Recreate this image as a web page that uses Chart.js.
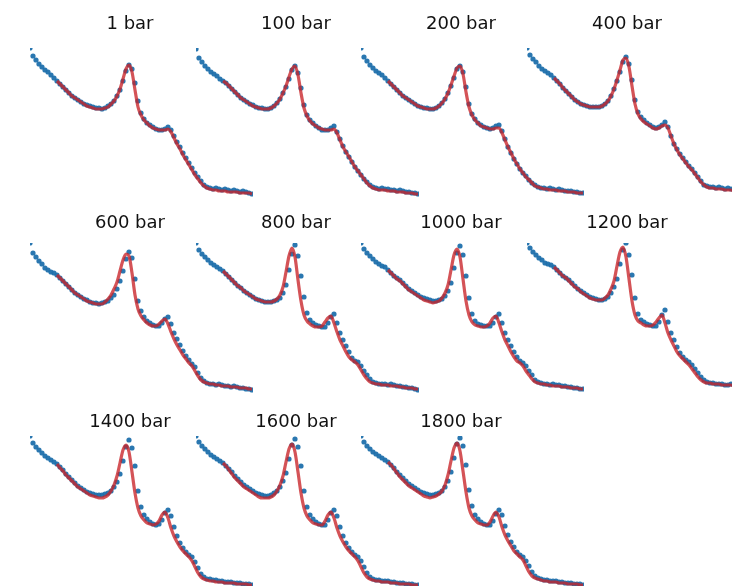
<!DOCTYPE html>
<html>
<head>
<meta charset="utf-8">
<script src="https://cdn.jsdelivr.net/npm/chart.js@4.4.1/dist/chart.umd.min.js"></script>
<style>
  html, body { margin: 0; padding: 0; background: #fff; }
  body { width: 732px; height: 587px; overflow: hidden; position: relative; }
  canvas { position: absolute; }
</style>
</head>
<body>
<script>
// channel positions of the measured points and of the fitted curve
const channels = [0,3,6,9,12,15,18,21,24,27,30,33,36,39,42,45,48,51,54,57,60,63,66,69,72,75,78,81,84,87,90,93,96,99,102,105,108,111,114,117,120,123,126,129,132,135,138,141,144,147,150,153,156,159,162,165,168,171,174,177,180,183,186,189,192,195,198,201,204,207,210,213,216,219,222];
const fitChannels = [27,30,33,36,39,42,45,48,51,54,57,60,63,66,69,72,75,78,81,84,87,90,93,96,99,102,105,108,111,114,117,120,123,126,129,132,135,138,141,144,147,150,153,156,159,162,165,168,171,174,177,180,183,186,189,192,195,198,201,204,207,210,213,216,219,222];

const pressures = ['1 bar', '100 bar', '200 bar', '400 bar', '600 bar', '800 bar', '1000 bar', '1200 bar', '1400 bar', '1600 bar', '1800 bar'];

// measured signal (depth below panel top) and fit, per pressure
const meas1 = [0,8,12,16,19,22,24,27,30,33,36,39,42,45,48,50,52,54,56,57,58,59,60,60,61,60,58,56,53,48,42,33,23,17,21,35,53,65,71,75,77,79,81,82,82,81,79,82,88,94,99,105,110,115,120,125,129,133,137,139,140,141,140,141,142,141,142,143,142,143,144,143,144,145,146];
const fit1 = [33,36,39,42,45,48,50,52,54,56,58,59,60,61,61,61,60,59,56,53,48,41,31,21,17,24,42,59,67,72,75,78,80,81,82,82,82,81,84,90,96,101,107,112,117,122,127,131,135,138,140,141,142,142,143,143,143,144,144,144,144,145,145,145,145,146];

const meas100 = [1,10,14,18,21,24,26,28,31,33,35,38,41,44,47,50,52,54,56,57,59,60,60,61,61,60,58,55,51,45,39,31,22,18,25,40,57,67,72,75,78,80,82,82,82,80,78,84,91,98,104,109,114,119,123,127,131,134,137,139,140,141,140,141,141,142,142,143,142,143,144,144,145,145,146];
const fit100 = [33,35,38,41,44,47,50,52,54,56,58,59,60,61,61,61,60,58,55,51,45,38,29,21,18,27,45,60,68,73,76,78,80,81,82,82,82,81,85,92,99,104,109,114,119,123,127,131,135,138,140,141,142,142,142,143,143,143,144,144,144,145,145,145,146,146];

const meas200 = [0,9,13,17,20,23,25,27,30,33,36,39,42,45,48,50,52,54,56,58,59,60,60,61,61,60,58,55,51,45,38,30,21,18,24,39,56,66,71,75,77,79,80,81,80,78,77,83,91,99,105,111,116,121,125,128,132,135,137,139,140,140,141,140,141,142,141,142,143,143,143,144,144,145,145];
const fit200 = [33,36,39,42,45,48,50,52,54,56,58,59,60,61,61,61,60,58,55,51,45,37,28,20,18,26,44,59,67,72,75,78,79,80,81,81,80,80,85,92,99,105,111,116,121,125,129,132,135,138,139,140,141,141,142,142,142,143,143,143,144,144,144,145,145,145];

const meas400 = [0,7,11,14,18,21,23,25,27,30,33,36,40,43,46,49,52,54,56,57,58,59,59,59,59,58,56,53,48,41,33,24,14,9,16,32,52,64,69,72,75,77,79,80,79,77,74,79,88,96,101,106,110,114,118,121,125,129,133,137,138,139,139,140,139,140,141,140,141,141,142,142,143,143,144];
const fit400 = [30,33,36,40,43,46,49,52,54,56,57,58,59,59,59,59,58,56,53,48,41,32,22,12,10,19,38,56,66,71,74,76,78,80,81,80,78,77,80,88,96,102,107,111,115,119,122,126,130,134,137,139,140,140,141,141,141,142,142,142,143,143,143,144,144,144];

const meas600 = [0,10,14,18,21,25,27,29,30,32,35,38,41,44,47,50,52,54,56,57,59,60,60,61,60,59,58,55,52,46,38,28,16,9,15,36,58,68,74,78,80,82,83,83,80,76,74,81,90,96,102,108,113,117,121,124,130,135,138,140,141,141,142,141,142,143,143,144,143,144,145,145,146,146,147];
const fit600 = [32,35,38,41,44,47,50,52,54,56,58,59,60,61,61,61,59,56,52,46,39,28,17,11,13,30,52,66,73,77,80,82,83,83,81,78,76,81,89,96,102,107,112,116,120,123,128,133,137,139,140,141,141,142,142,143,143,143,144,144,144,145,145,145,146,146];

const meas800 = [0,7,11,14,17,20,22,24,26,28,31,34,37,40,43,45,48,50,52,54,56,57,58,59,59,59,58,57,55,50,42,27,11,2,13,33,54,70,77,80,82,83,84,84,80,74,71,80,90,97,103,109,115,118,119,123,128,132,136,139,140,141,141,141,142,141,142,143,143,144,144,145,145,146,147];
const fit800 = [28,31,34,37,40,43,45,48,50,52,54,56,57,58,59,59,59,58,56,52,44,29,13,5,14,37,58,72,78,81,83,84,84,83,79,75,73,80,89,97,103,109,114,117,119,122,127,132,136,139,140,141,141,142,142,142,143,143,143,144,144,145,145,145,146,146];

const meas1000 = [0,6,10,13,16,19,21,23,24,27,30,33,35,37,40,43,46,48,50,52,54,55,56,57,58,58,57,56,53,48,40,25,10,3,12,33,55,71,78,81,82,83,83,83,80,74,71,80,90,97,103,109,114,118,120,123,128,132,137,139,140,141,141,142,141,142,142,143,143,144,144,145,145,146,146];
const fit1000 = [27,30,33,36,38,41,44,47,49,51,53,55,57,58,59,60,59,58,55,50,42,27,12,6,14,36,58,72,79,82,83,84,84,83,80,75,73,80,89,97,103,109,114,118,120,123,128,132,136,139,140,141,141,142,142,143,143,143,144,144,144,145,145,145,146,146];

const meas1200 = [0,5,9,12,15,17,20,21,22,24,27,30,33,35,37,40,43,46,48,50,52,54,55,56,57,57,56,54,50,44,36,21,7,0,12,32,55,71,77,79,81,82,83,83,79,72,67,79,90,97,104,110,114,117,119,122,126,130,134,137,139,140,140,141,141,141,142,142,141,142,143,143,144,144,145];
const fit1200 = [24,27,30,33,35,38,41,44,46,49,51,53,55,56,57,57,57,55,52,46,38,23,9,4,14,36,58,72,78,80,82,83,83,82,79,75,72,80,90,97,103,109,113,116,119,122,126,130,134,137,139,140,140,141,141,141,142,142,142,142,143,143,144,144,144,145];

const meas1400 = [0,7,11,14,17,20,22,24,26,28,31,34,38,41,44,47,50,52,54,56,57,58,59,59,59,58,57,55,51,46,38,25,11,4,12,30,55,71,79,83,86,88,89,88,84,77,74,80,91,100,107,112,116,119,121,126,132,138,141,143,143,144,144,145,145,146,146,146,147,147,147,148,148,148,149];
const fit1400 = [28,32,35,39,42,45,48,51,53,55,57,59,60,61,62,62,61,59,55,49,40,27,14,9,16,36,57,72,80,84,87,88,89,88,85,79,76,82,92,100,106,111,115,118,121,125,131,137,141,143,144,145,145,146,146,146,147,147,147,147,148,148,148,148,149,149];

const meas1600 = [0,6,10,13,16,19,21,23,25,27,30,33,36,40,43,46,49,51,53,55,57,58,59,60,60,59,57,55,51,45,37,23,9,3,11,30,55,71,79,83,86,88,89,89,84,77,74,80,91,100,107,112,116,119,121,125,131,137,141,143,144,144,145,145,145,146,146,147,147,147,148,148,148,149,149];
const fit1600 = [27,30,34,38,42,45,48,51,53,55,57,59,61,62,62,62,61,59,55,49,40,26,13,8,16,36,57,72,80,84,87,88,89,89,85,79,76,82,92,100,106,111,115,118,121,125,131,137,141,143,144,145,145,146,146,146,147,147,147,148,148,148,148,149,149,149];

const meas1800 = [0,6,10,13,16,18,20,22,24,26,29,32,36,39,42,45,48,50,52,54,56,57,58,59,59,58,57,55,51,45,36,22,8,2,10,29,54,70,79,83,86,88,89,89,85,78,74,79,90,99,106,111,116,119,121,125,130,136,140,142,143,144,144,145,145,145,146,146,147,147,147,148,148,148,149];
const fit1800 = [26,29,33,37,41,44,47,50,52,54,56,58,60,61,62,61,60,58,55,49,39,25,12,7,15,35,56,72,80,84,87,88,89,89,86,80,76,81,91,99,105,110,115,118,121,124,130,136,140,142,143,144,145,145,146,146,146,147,147,147,148,148,148,148,149,149];

const measured = [meas1, meas100, meas200, meas400, meas600, meas800, meas1000, meas1200, meas1400, meas1600, meas1800];
const fitted = [fit1, fit100, fit200, fit400, fit600, fit800, fit1000, fit1200, fit1400, fit1600, fit1800];

// panel placement (4 columns, 3 rows, panels overlap)
const colLeft = [7, 173, 338, 504];
const rowTop = [14, 213, 412];
const rowGap = [12.4, 8.4, 2.4];

function pairs(xs, ys) {
    return ys.map(function (y, i) { return {x: xs[i], y: y}; });
}

pressures.forEach(function (label, k) {
    const col = k % 4, row = Math.floor(k / 4);
    const canvas = document.createElement('canvas');
    const h = Math.round(21.6 + rowGap[row] + 150);
    canvas.width = 246;
    canvas.height = h;
    canvas.style.left = colLeft[col] + 'px';
    canvas.style.top = rowTop[row] + 'px';
    canvas.style.width = '246px';
    canvas.style.height = h + 'px';
    document.body.appendChild(canvas);

    new Chart(canvas.getContext('2d'), {
        type: 'scatter',
        data: {
            datasets: [{
                label: 'fit',
                data: pairs(fitChannels, fitted[k]),
                showLine: true,
                borderColor: 'rgba(200, 35, 40, 0.78)',
                borderWidth: 3.2,
                pointRadius: 0,
                cubicInterpolationMode: 'monotone',
                clip: {left: -23, top: 0, right: 0, bottom: false}
            }, {
                label: 'data',
                data: pairs(channels, measured[k]),
                showLine: false,
                backgroundColor: 'rgba(31, 112, 172, 0.95)',
                borderWidth: 0,
                pointRadius: 2.6,
                clip: {left: -23, top: 0, right: 0, bottom: false}
            }]
        },
        options: {
            responsive: false,
            animation: false,
            devicePixelRatio: 1,
            layout: {padding: 0, autoPadding: false},
            plugins: {
                legend: {display: false},
                tooltip: {enabled: false},
                title: {
                    display: true,
                    text: label,
                    color: '#111',
                    font: {family: 'DejaVu Sans', size: 18, weight: 'normal'},
                    padding: {top: 0, bottom: rowGap[row]}
                }
            },
            scales: {
                x: {type: 'linear', display: false, min: -23, max: 223},
                y: {type: 'linear', display: false, reverse: true, min: 0, max: 150}
            }
        }
    });
});
</script>
</body>
</html>
